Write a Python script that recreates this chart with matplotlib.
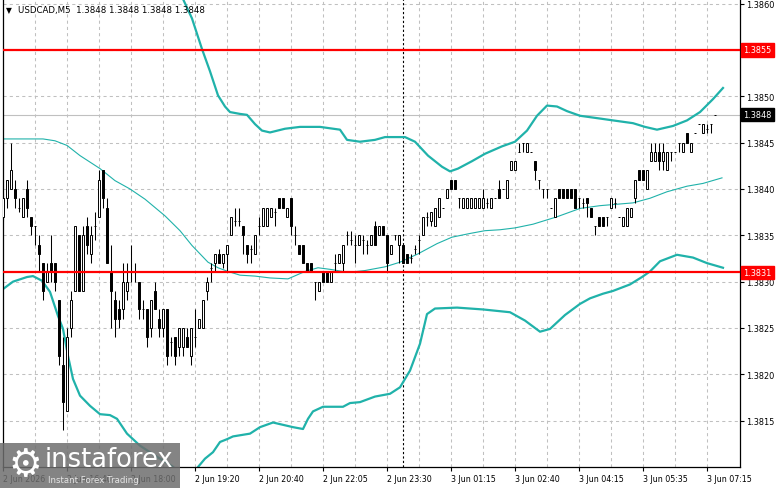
import matplotlib
matplotlib.use("Agg")
import matplotlib.pyplot as plt
from matplotlib.patches import Rectangle
import numpy as np

W, H = 781, 489

# USDCAD M5 bars (one per 5 minutes)
opens = [1.3837,1.3839,1.3840,1.3840,1.3838,1.3837,1.3840,1.3837,1.3836,1.3834,
         1.3832,1.3830,1.3832,1.3832,1.3828,1.3821,1.3816,1.3825,1.3829,1.3835,
         1.3829,1.3836,1.3833,1.3836,1.3837,1.3842,1.3838,1.3831,1.3828,1.3827,
         1.3827,1.3829,1.3831,1.3831,1.3830,1.3827,1.3827,1.3825,1.3829,1.3826,
         1.3825,1.3827,1.38235,1.3824,1.3823,1.3823,1.3824,1.3822,1.3824,1.3825,
         1.3825,1.3829,1.38315,1.3832,1.3833,1.3832,1.3833,1.3835,1.38365,1.38365,
         1.3836,1.3834,1.38335,1.3833,1.3836,1.3836,1.3836,1.3837,1.38375,1.3839,
         1.3839,1.3837,1.3839,1.3835,1.3834,1.3834,1.3832,1.3832,1.3830,1.3829,
         1.3831,1.3831,1.3830,1.3832,1.3832,1.3832,1.3835,1.38345,1.3834,1.3834,
         1.38345,1.3834,1.3834,1.3836,1.3835,1.3836,1.3835,1.3833,1.3835,1.3834,
         1.3834,1.3833,1.38325,1.38335,1.38345,1.3835,1.3837,1.38365,1.3836,1.3837,
         1.3838,1.3839,1.3841,1.3841,1.3839,1.3838,1.3838,1.3838,1.3838,1.3838,
         1.3838,1.38385,1.3838,1.3839,1.3840,1.3840,1.3839,1.3842,1.3842,1.3844,
         1.3845,1.3844,1.3844,1.3843,1.3841,1.3840,1.3840,1.3838,1.3837,1.3840,
         1.3840,1.3840,1.3840,1.3840,1.3839,1.38385,1.3839,1.3838,1.3836,1.3837,
         1.3837,1.3837,1.3838,1.38385,1.3837,1.3836,1.3836,1.3837,1.3839,1.3842,
         1.3842,1.3840,1.3843,1.3843,1.3844,1.3843,1.3842,1.3844,1.3844,1.3845,
         1.3844,1.3846,1.3844,1.3846,1.3847,1.3846,1.38465,1.3847,1.3848]
highs = [1.38395,1.3841,1.3845,1.3841,1.3839,1.3839,1.3841,1.3837,1.3836,1.3835,
         1.3832,1.3832,1.3835,1.3832,1.3828,1.3824,1.3825,1.3829,1.3836,1.3835,
         1.3836,1.3837,1.3836,1.38375,1.3842,1.3842,1.3839,1.3834,1.3829,1.3828,
         1.3832,1.3832,1.3834,1.3832,1.3830,1.3828,1.3827,1.3828,1.3830,1.3827,
         1.3827,1.3827,1.3824,1.3824,1.3825,1.3825,1.3825,1.3825,1.3827,1.3826,
         1.3828,1.38305,1.3832,1.3833,1.38335,1.3833,1.3834,1.3837,1.3838,1.3838,
         1.3836,1.3834,1.3834,1.3835,1.3837,1.3838,1.3838,1.3838,1.3838,1.3839,
         1.3839,1.3838,1.3839,1.3836,1.3834,1.3834,1.3832,1.3832,1.3830,1.3830,
         1.3831,1.3831,1.3831,1.3833,1.3833,1.3834,1.38355,1.38355,1.3835,1.3835,
         1.3835,1.38345,1.3835,1.38365,1.3836,1.3836,1.3835,1.3834,1.3835,1.3835,
         1.3834,1.3833,1.3833,1.3834,1.3835,1.3837,1.38375,1.38375,1.3838,1.3839,
         1.3838,1.3840,1.3841,1.3841,1.3839,1.3839,1.3839,1.3839,1.3839,1.3839,
         1.3840,1.3839,1.3839,1.3839,1.3841,1.3840,1.3841,1.3843,1.3843,1.3845,
         1.3845,1.3845,1.3844,1.3843,1.3841,1.3840,1.3840,1.3838,1.3839,1.3840,
         1.3840,1.3840,1.3840,1.3840,1.3839,1.3839,1.3839,1.3838,1.3836,1.3837,
         1.3837,1.3837,1.3839,1.3839,1.3837,1.3837,1.3838,1.3838,1.3841,1.3842,
         1.3842,1.3842,1.3845,1.3845,1.3845,1.3845,1.3844,1.3844,1.3844,1.3845,
         1.3845,1.3846,1.3845,1.3846,1.3847,1.3847,1.3847,1.3847,1.3848]
lows = [1.38365,1.3838,1.3840,1.3838,1.38375,1.3837,1.3837,1.3835,1.3834,1.3831,
        1.3828,1.3830,1.3830,1.3829,1.3821,1.3814,1.3816,1.3824,1.3829,1.3829,
        1.3829,1.3833,1.3832,1.38345,1.3837,1.3838,1.3832,1.3825,1.3824,1.3825,
        1.3826,1.3828,1.3830,1.3830,1.3826,1.3826,1.3823,1.3824,1.3827,1.3824,
        1.3824,1.3821,1.3822,1.3821,1.3822,1.3822,1.3823,1.3821,1.3823,1.3825,
        1.3825,1.3828,1.3830,1.3831,1.3832,1.38315,1.3831,1.3835,1.3836,1.3836,
        1.3833,1.3832,1.3832,1.3833,1.3835,1.3836,1.3836,1.3837,1.3836,1.3838,
        1.3838,1.3837,1.3835,1.3834,1.3833,1.3832,1.3831,1.3831,1.3828,1.3829,
        1.3830,1.3830,1.3830,1.3831,1.3832,1.3831,1.3834,1.3834,1.3832,1.3834,
        1.3833,1.3833,1.3834,1.3834,1.3835,1.3835,1.3831,1.3833,1.38345,1.3832,
        1.3832,1.3832,1.3832,1.3833,1.3833,1.3835,1.3836,1.3836,1.3836,1.3837,
        1.3838,1.3839,1.3840,1.3840,1.3838,1.3838,1.3838,1.3838,1.3838,1.3838,
        1.3838,1.3838,1.3838,1.3839,1.3839,1.3840,1.3839,1.3842,1.3842,1.3844,
        1.3844,1.3844,1.3844,1.3841,1.3840,1.3839,1.3839,1.3838,1.3837,1.3839,
        1.3839,1.3839,1.3839,1.3838,1.3838,1.3838,1.3837,1.3837,1.3835,1.3836,
        1.3836,1.3836,1.3838,1.3838,1.3837,1.3836,1.3836,1.3837,1.38385,1.3841,
        1.3841,1.3840,1.3843,1.3843,1.3842,1.3842,1.3842,1.3843,1.3844,1.3844,
        1.3844,1.3845,1.3844,1.3846,1.3847,1.3846,1.3846,1.3846,1.3848]
closes = [1.3839,1.3841,1.3842,1.3839,1.3838,1.3839,1.3838,1.3836,1.3836,1.3833,
          1.3829,1.3831,1.3831,1.3830,1.3822,1.3817,1.3824,1.3828,1.3836,1.3829,
          1.3835,1.3834,1.3835,1.3836,1.3841,1.3839,1.3832,1.3829,1.3826,1.3826,
          1.3830,1.3830,1.3831,1.3831,1.3827,1.3827,1.3824,1.3828,1.3827,1.3825,
          1.3827,1.3822,1.38235,1.3822,1.3825,1.3825,1.3823,1.3825,1.3824,1.3826,
          1.3828,1.3830,1.38315,1.3833,1.3832,1.3833,1.3834,1.3837,1.38365,1.38365,
          1.3835,1.3833,1.38335,1.3835,1.3836,1.3838,1.3838,1.3838,1.38375,1.3838,
          1.3838,1.3838,1.3836,1.3835,1.3833,1.3832,1.3831,1.3831,1.3830,1.3830,
          1.3830,1.3830,1.3831,1.3832,1.3833,1.3834,1.3835,1.38345,1.3834,1.3835,
          1.38345,1.3834,1.3835,1.3834,1.3836,1.3835,1.3832,1.3834,1.3835,1.3835,
          1.3832,1.3832,1.38325,1.38335,1.38345,1.3837,1.3837,1.38375,1.3838,1.3839,
          1.3838,1.3840,1.3840,1.3840,1.3839,1.3839,1.3839,1.3839,1.3839,1.3839,
          1.3839,1.38385,1.3839,1.3839,1.3839,1.3840,1.3841,1.3843,1.3843,1.3844,
          1.3845,1.3845,1.3844,1.3842,1.3841,1.3840,1.3840,1.3838,1.3839,1.3839,
          1.3839,1.3839,1.3839,1.3838,1.3839,1.38385,1.38385,1.3837,1.3836,1.3836,
          1.3836,1.3837,1.3839,1.38385,1.3837,1.3837,1.3838,1.3838,1.3841,1.3841,
          1.3841,1.3842,1.3844,1.3844,1.3843,1.3844,1.3844,1.3844,1.3844,1.3845,
          1.3845,1.3845,1.3845,1.3846,1.3847,1.3847,1.38465,1.3847,1.3848]

# Bollinger bands, sampled at bar index positions
upper_idx = [41.75,45,47.25,49.75,51.75,53.75,55.5,56.75,59.25,61,
             63,64.75,66.75,70.5,74.25,79.25,84.25,86,89.25,93,
             95.5,100.5,103,106.25,109.75,111.75,113.75,117.25,120.5,124.75,
             128,131,133.5,136,138.5,141,144.25,149.25,152.5,157.5,
             160.5,163.5,167.5,171,174.25,177.5,180]
upper = [1.3867,1.38605,1.38584,1.38551,1.38527,1.38501,1.38489,1.38483,1.38481,1.3848,
         1.3847,1.38463,1.38461,1.38465,1.38467,1.38467,1.38464,1.38453,1.38451,1.38453,
         1.38456,1.38456,1.38451,1.38436,1.38424,1.38419,1.38422,1.3843,1.38438,1.38446,
         1.38451,1.38463,1.38479,1.3849,1.38489,1.38484,1.38479,1.38476,1.38474,1.38471,
         1.38467,1.38464,1.38468,1.38474,1.38483,1.38497,1.38509]
middle_idx = [0,10,13,16,19.25,24.25,28,31.75,35.5,40.5,
              44.25,47.25,51.25,53.75,56.25,59.25,63,66.75,71.25,75.5,
              78.75,82.25,86.25,90.5,95.5,99.25,103.75,108.5,112.25,116.75,
              120.5,124.25,128,132.5,138.5,144.25,149.25,157.5,161.75,166,
              171,175,179.75]
middle = [1.38454,1.38454,1.38452,1.38447,1.38436,1.38422,1.38409,1.384,1.38389,1.38371,
          1.38355,1.38339,1.38321,1.38315,1.38311,1.38307,1.38306,1.38304,1.38303,1.38311,
          1.38315,1.38313,1.3831,1.38312,1.38316,1.38321,1.3833,1.38341,1.38348,1.38352,
          1.38355,1.38356,1.38358,1.38362,1.3837,1.38379,1.38382,1.38385,1.3839,1.38397,
          1.38403,1.38406,1.38412]
lower_idx = [0,2.5,6,7.5,9.75,11.75,13.75,15,16.25,17.5,
             19.25,21.75,24.25,26.75,28.5,31,34.25,38.5,42.25,45.5,
             46.75,48.75,50.5,52.5,54.25,56,57.5,61.75,64.25,67.5,
             70.5,72.5,75,76.25,77.5,80,85,86.75,89.25,93,
             96.75,99.25,101.75,104.25,106,108,113.5,120,126.75,130.5,
             134.25,136.75,140.5,144.25,146.75,150,152.5,156.75,159.75,161.75,
             164.25,168.5,172.5,176,180]
lower = [1.38292,1.383,1.38305,1.38306,1.38301,1.38289,1.38263,1.38249,1.3822,1.38195,
         1.38177,1.38166,1.38157,1.38156,1.38152,1.38136,1.38123,1.38111,1.38101,1.38089,
         1.38089,1.381,1.38109,1.38116,1.38127,1.3813,1.38133,1.38136,1.38143,1.38148,
         1.38145,1.38143,1.38141,1.38152,1.3816,1.38165,1.38165,1.38169,1.3817,1.38176,
         1.38179,1.38186,1.38204,1.38233,1.38265,1.38271,1.38272,1.3827,1.38267,1.38258,
         1.38246,1.38249,1.38264,1.38276,1.38282,1.38287,1.3829,1.38297,1.38305,1.38311,
         1.38322,1.38329,1.38326,1.3832,1.38315]

red_levels = [1.3855, 1.3831]
bid = 1.3848
price_ticks = [1.3815, 1.3820, 1.3825, 1.3830, 1.3835, 1.3840, 1.3845, 1.3850, 1.3855, 1.3860]
time_idx = [0, 16, 32, 48, 64, 80, 96, 112, 128, 144, 160, 176]
time_labels = ["2 Jun 2026", "2 Jun 16:40", "2 Jun 18:00", "2 Jun 19:20", "2 Jun 20:40",
               "2 Jun 22:05", "2 Jun 23:30", "3 Jun 01:15", "3 Jun 02:40", "3 Jun 04:15",
               "3 Jun 05:35", "3 Jun 07:15"]
separator_idx = 100

teal = "#20B2AA"
grid_c = "#c0c0c0"

fig = plt.figure(figsize=(W / 100, H / 100), dpi=100)
ax = fig.add_axes([3 / W, (H - 468) / H, 737 / W, 468 / H])
ax.set_xlim(0, 184.25)
ax.set_ylim(1.3810, 1.38605)

# dashed grid
for k in range(8, 184, 8):
    ax.axvline(k, color=grid_c, lw=0.75, ls=(0, (3, 3)), zorder=0.5)
for v in price_ticks:
    ax.axhline(v, color=grid_c, lw=0.75, ls=(0, (3, 3)), zorder=0.5)
ax.axhline(bid, color=grid_c, lw=0.8, zorder=0.6)
ax.axvline(separator_idx, color="black", lw=0.8, ls=(0, (2, 2)), zorder=0.7)

# bands
ax.plot(upper_idx, upper, color=teal, lw=1.6, zorder=1.5)
ax.plot(middle_idx, middle, color=teal, lw=0.8, zorder=1.5)
ax.plot(lower_idx, lower, color=teal, lw=1.6, zorder=1.5)

# candles
o = np.array(opens); h = np.array(highs); l = np.array(lows); c = np.array(closes)
x = np.arange(len(o))
up = c >= o
ax.vlines(x, l, h, color="black", lw=0.75, zorder=2)
ax.bar(x, np.abs(c - o), bottom=np.minimum(o, c), width=0.7,
       color=np.where(up, "white", "black"), edgecolor="black", linewidth=0.7, zorder=3)

for v in red_levels:
    ax.axhline(v, color="#ff0000", lw=1.6, zorder=4)

# axes look
ax.spines["top"].set_visible(False)
for s in ["left", "bottom", "right"]:
    ax.spines[s].set_color("black")
    ax.spines[s].set_linewidth(0.9)
ax.yaxis.tick_right()
ax.set_yticks(price_ticks)
ax.set_yticklabels(["" if abs(v - 1.3855) < 1e-6 else f"{v:.4f}" for v in price_ticks])
ax.tick_params(axis="y", length=3, width=0.8, pad=1.5, labelsize=5.9, colors="black")
ax.set_xticks(time_idx)
ax.set_xticklabels(time_labels, ha="left")
ax.tick_params(axis="x", length=3, width=0.8, pad=2, labelsize=5.7)

# price labels on the right
ytr = ax.get_yaxis_transform()
for v, fc in [(1.3855, "#ff0000"), (1.3831, "#ff0000"), (bid, "black")]:
    ax.annotate(f"{v:.4f}", xy=(1.0, v), xycoords=ytr, xytext=(2.5, 0),
                textcoords="offset points", ha="left", va="center", fontsize=5.9,
                color="white", annotation_clip=False, zorder=6,
                bbox=dict(boxstyle="square,pad=0.25", fc=fc, ec=fc))

# header text
fig.text(6 / W, 1 - 11 / H, "▼", fontsize=5.5, color="black", va="center")
fig.text(18 / W, 1 - 11 / H, "USDCAD,M5  1.3848 1.3848 1.3848 1.3848",
         fontsize=6.2, color="black", va="center")

# watermark
fig.patches.append(Rectangle((0, 0), 180 / W, 45 / H, transform=fig.transFigure,
                             fc="#6e6e6e", ec="none", alpha=0.85, zorder=5))
fig.text(25 / W, 1 - 466 / H, "⚙", fontsize=27, color="white", ha="center",
         va="center", zorder=6)
fig.text(45 / W, 1 - 460 / H, "instaforex", fontsize=18.5, color="white",
         va="center", zorder=6)
fig.text(48 / W, 1 - 481 / H, "Instant Forex Trading", fontsize=6.2,
         color="#e6e6e6", va="center", zorder=6)

fig.savefig("out.png", dpi=100)
